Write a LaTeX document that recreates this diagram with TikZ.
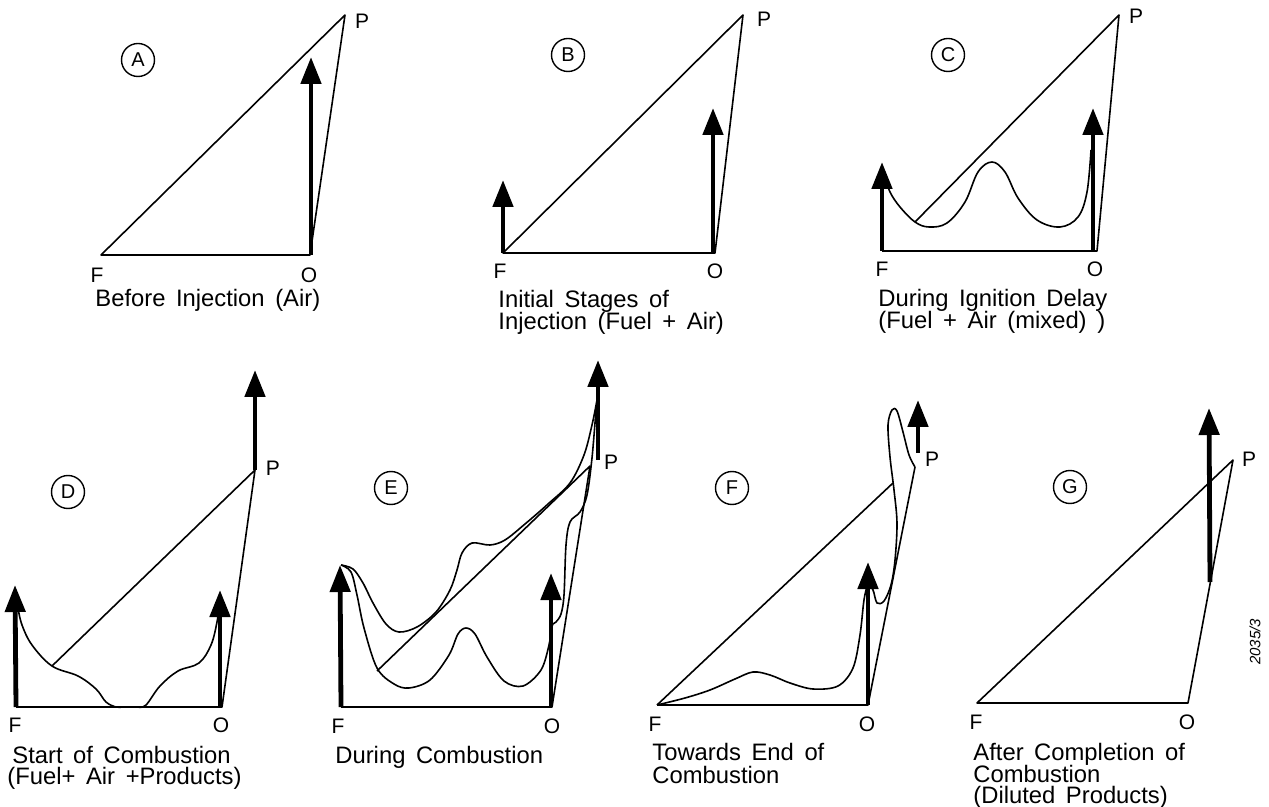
\documentclass[tikz,border=0pt]{standalone}
\usepackage{fontspec}
\setmainfont[WordSpace=1.6]{Liberation Sans}
\usetikzlibrary{arrows.meta}
\begin{document}
\begin{tikzpicture}[x=0.5pt,y=-0.5pt,
  thinline/.style={line width=0.8pt, line join=round},
  fatarrow/.style={line width=2.4pt, -{Triangle[width=10pt,length=13.5pt]}},
  tag/.style={circle, draw, line width=0.7pt, minimum size=16.5pt, inner sep=0pt, font=\fontsize{10}{10}\selectfont},
  ptlabel/.style={font=\fontsize{10.5}{10}\selectfont, inner sep=0pt},
  captext/.style={font=\fontsize{11.9}{11}\selectfont, inner sep=0pt, anchor=base west, text height=8.5pt, text depth=1pt}
]
\useasboundingbox[fill=white] (0,0) rectangle (1269,807);

% ---------------- Panel A ----------------
\coordinate (AF) at (101,255); \coordinate (AO) at (310,255); \coordinate (AP) at (345,15);
\draw[thinline] (AF) -- (AO) -- (AP) -- cycle;
\coordinate (AOa) at (311,255); \coordinate (AT) at (311,57);
\draw[fatarrow] (AOa) -- (AT);
\node[tag] (Acirc) at (138,60) {A};
\node[ptlabel] (AFl) at (97,275) {F};
\node[ptlabel] (AOl) at (309,275) {O};
\node[ptlabel] (APl) at (362,21) {P};
\node[captext] (Acap) at (95,307) {Before Injection (Air)};

% ---------------- Panel B ----------------
\coordinate (BF) at (503,253); \coordinate (BO) at (715,253); \coordinate (BP) at (743,15);
\draw[thinline] (BF) -- (BO) -- (BP) -- cycle;
\coordinate (BT1) at (503,180); \coordinate (BOa) at (713,253); \coordinate (BT2) at (713,108);
\draw[fatarrow] (BF) -- (BT1);
\draw[fatarrow] (BOa) -- (BT2);
\node[tag] (Bcirc) at (568,55) {B};
\node[ptlabel] (BFl) at (500,271) {F};
\node[ptlabel] (BOl) at (715,271) {O};
\node[ptlabel] (BPl) at (764,19) {P};
\node[captext] (Bcap1) at (498,308) {Initial Stages of};
\node[captext] (Bcap2) at (498,330) {Injection (Fuel + Air)};

% ---------------- Panel C ----------------
\coordinate (CF) at (882,251); \coordinate (CO) at (1097,251); \coordinate (CP) at (1119,15);
\coordinate (CD) at (915,222);
\draw[thinline] (CF) -- (CO) -- (CP) -- (CD);
\draw[thinline] plot[smooth,tension=0.6] coordinates {(885,176) (890,192) (900,207) (915,222) (929,227) (947,223) (965,202) (978,172) (992,162) (1005,172) (1018,198) (1037,220) (1060,227) (1078,217) (1087,192) (1091,150)};
\coordinate (CT1) at (882,162); \coordinate (COa) at (1093,251); \coordinate (CT2) at (1093,108);
\draw[fatarrow] (CF) -- (CT1);
\draw[fatarrow] (COa) -- (CT2);
\node[tag] (Ccirc) at (948,55) {C};
\node[ptlabel] (CFl) at (882,269) {F};
\node[ptlabel] (COl) at (1095,269) {O};
\node[ptlabel] (CPl) at (1136,16) {P};
\node[captext] (Ccap1) at (878,307) {During Ignition Delay};
\node[captext] (Ccap2) at (878,329) {(Fuel + Air (mixed) )};

% ---------------- Panel D ----------------
\coordinate (DF) at (16,707); \coordinate (DO) at (222,707); \coordinate (DP) at (255,470);
\coordinate (DD) at (52,666);
\draw[thinline] (DF) -- (DO) -- (DP) -- (DD);
\draw[thinline] plot[smooth,tension=0.6] coordinates {(18,608) (22,625) (32,645) (52,666) (78,676) (96,689) (106,702) (116,707) (122,707)};
\draw[thinline] plot[smooth,tension=0.6] coordinates {(138,707) (146,705) (160,686) (178,671) (199,663) (211,645) (217,622) (219,605)};
\coordinate (DT1) at (15,585); \coordinate (DOa) at (220,707); \coordinate (DT2) at (220,590);
\coordinate (DT3) at (255,370);
\draw[fatarrow] (DF) -- (DT1);
\draw[fatarrow] (DOa) -- (DT2);
\draw[fatarrow] (DP) -- (DT3);
\node[tag] (Dcirc) at (68,492) {D};
\node[ptlabel] (DFl) at (15,725) {F};
\node[ptlabel] (DOl) at (221,725) {O};
\node[ptlabel] (DPl) at (273,468) {P};
\node[captext] (Dcap1) at (12,763) {Start of Combustion};
\node[captext] (Dcap2) at (7,784) {(Fuel+ Air +Products)};

% ---------------- Panel E ----------------
\coordinate (EF) at (341,707); \coordinate (EO) at (552,707); \coordinate (EP) at (590,466);
\coordinate (ED) at (377,671);
\draw[thinline] (EF) -- (EO) -- (EP) -- (ED);
% upper curve
\draw[thinline] plot[smooth,tension=0.55] coordinates {(341,565) (353,569) (363,583) (373,603) (386,624) (399,632) (417,627) (436,612) (450,590) (457,570) (462,553) (472,543) (490,545) (505,540) (525,524) (548,504) (570,483) (584,455) (592,425) (597,400)};
% lower curve
\draw[thinline] plot[smooth,tension=0.55] coordinates {(341,565) (351,572) (357,595) (364,628) (377,668) (394,684) (409,688) (430,680) (449,655) (458,634) (466,628) (475,634) (487,657) (504,681) (523,686) (541,670) (549,645) (552,626) (556,622) (561,614) (564,595) (566,545) (570,522) (580,512) (587,495) (592,458) (596,410)};
\coordinate (ET1) at (340,565); \coordinate (EOa) at (551,707); \coordinate (ET2) at (551,573);
\coordinate (EPa) at (598,460); \coordinate (ET3) at (598,360);
\draw[fatarrow] (EF) -- (ET1);
\draw[fatarrow] (EOa) -- (ET2);
\draw[fatarrow] (EPa) -- (ET3);
\node[tag] (Ecirc) at (391,488) {E};
\node[ptlabel] (EFl) at (338,726) {F};
\node[ptlabel] (EOl) at (552,726) {O};
\node[ptlabel] (EPl) at (611,462) {P};
\node[captext] (Ecap) at (335,763) {During Combustion};

% ---------------- Panel F ----------------
\coordinate (FF) at (657,705); \coordinate (FO) at (868,705); \coordinate (FP) at (915,467);
\coordinate (FD) at (893,483);
\draw[thinline] (FF) -- (FO) -- (FP);
\draw[thinline] (FF) -- (FD);
\draw[thinline] plot[smooth,tension=0.55] coordinates {(657,705) (685,698) (710,690) (735,679) (753,672) (770,675) (790,683) (813,689) (838,686) (853,668) (860,635) (864,600) (868,585) (873,590) (877,603) (884,601) (891,585) (895,560) (897,523) (894,490) (890,457) (888,425) (892,410) (897,411) (903,432) (909,455) (915,467)};
\coordinate (FOa) at (868,705); \coordinate (FT1) at (868,562);
\coordinate (FPa) at (918,453); \coordinate (FT2) at (918,400);
\draw[fatarrow] (FOa) -- (FT1);
\draw[fatarrow] (FPa) -- (FT2);
\node[tag] (Fcirc) at (732,488) {F};
\node[ptlabel] (FFl) at (655,724) {F};
\node[ptlabel] (FOl) at (867,724) {O};
\node[ptlabel] (FPl) at (932,459) {P};
\node[captext] (Fcap1) at (652,760) {Towards End of};
\node[captext] (Fcap2) at (652,783) {Combustion};

% ---------------- Panel G ----------------
\coordinate (GF) at (977,703); \coordinate (GO) at (1188,703); \coordinate (GP) at (1233,460);
\draw[thinline] (GF) -- (GO) -- (GP) -- cycle;
\coordinate (GA) at (1210,582); \coordinate (GT) at (1209,408);
\draw[fatarrow] (GA) -- (GT);
\node[tag] (Gcirc) at (1070,487) {G};
\node[ptlabel] (GFl) at (976,722) {F};
\node[ptlabel] (GOl) at (1187,722) {O};
\node[ptlabel] (GPl) at (1249,459) {P};
\node[captext] (Gcap1) at (973,760) {After Completion of};
\node[captext] (Gcap2) at (973,782) {Combustion};
\node[captext] (Gcap3) at (973,803) {(Diluted Products)};

\node[rotate=90, inner sep=0pt, font=\itshape\fontsize{7.5}{8}\selectfont] (code) at (1255,642) {2035/3};
\end{tikzpicture}
\end{document}
